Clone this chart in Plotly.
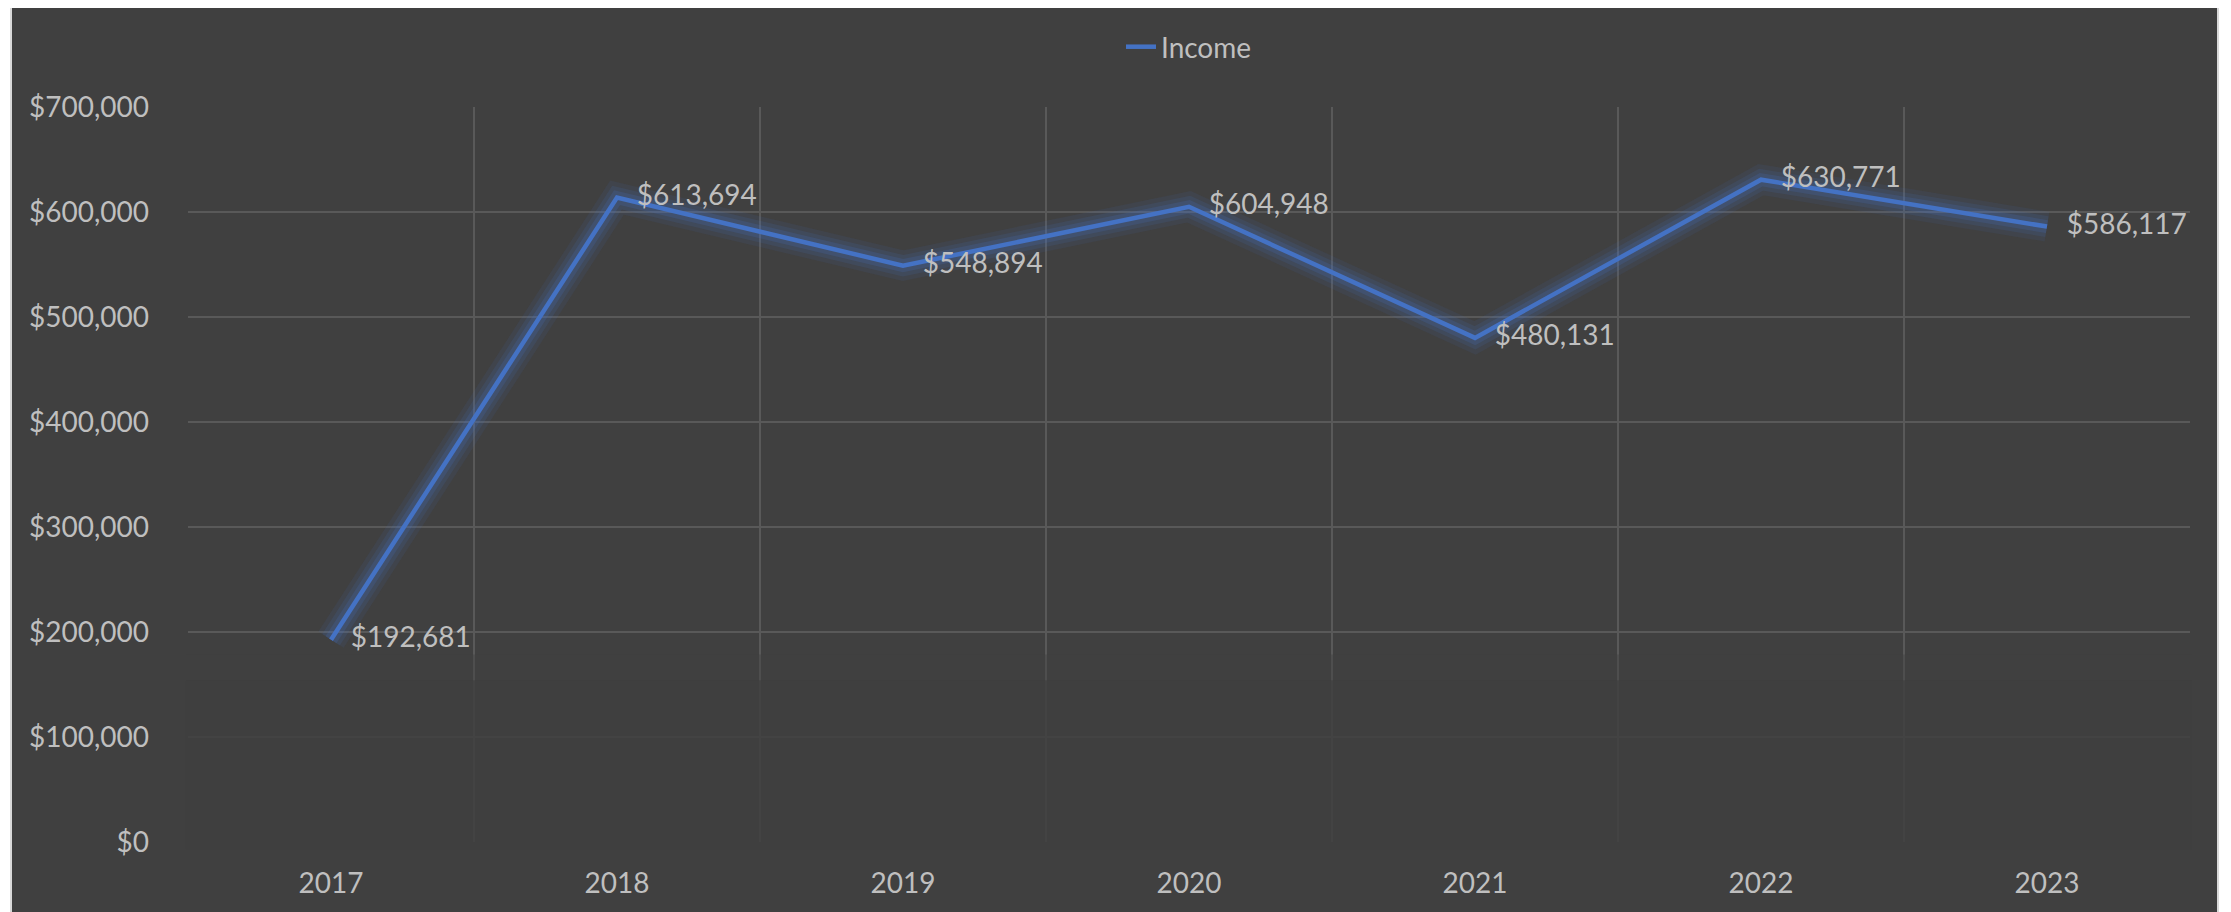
import plotly.graph_objects as go

years = ["2017", "2018", "2019", "2020", "2021", "2022", "2023"]
income = [192681, 613694, 548894, 604948, 480131, 630771, 586117]
y_ticks = [0, 100000, 200000, 300000, 400000, 500000, 600000, 700000]
series_name = "Income"

BG = "#404040"
TXT = "#BFBFBF"
GRID = "#595959"
BLUE = "#4472C4"
FONT = "Lato"
FS = 28

labels = ["${:,}".format(v) for v in income]

fig = go.Figure()
# soft glow under the line
for w, a in [(30, 0.09), (21, 0.13), (13, 0.19)]:
    fig.add_trace(go.Scatter(
        x=years, y=income, mode="lines",
        line=dict(color=f"rgba(68,114,196,{a})", width=w),
        showlegend=False, hoverinfo="skip"))
fig.add_trace(go.Scatter(
    x=years, y=income, name=series_name,
    mode="lines+markers+text",
    line=dict(color=BLUE, width=4.5),
    marker=dict(size=30, color="rgba(0,0,0,0)", line=dict(width=0)),
    text=labels, textposition="middle right",
    textfont=dict(family=FONT, size=FS, color=TXT),
))

# page body has an 8px margin, so the figure is placed at (8, 8)
OFF = 8
W, H = 2231 - OFF, 912 - OFF
L, R, T, B = 188 - OFF, 41, 107 - OFF, 70
pw, ph = W - L - R, H - T - B

def px(x):
    return (x - OFF - L) / pw

def py(y):
    return (H - B - (y - OFF)) / ph

shapes = [
    dict(type="rect", xref="paper", yref="paper", layer="below",
         x0=px(11), x1=px(2218), y0=py(914), y1=py(5),
         fillcolor=BG, line=dict(color="#D9D9D9", width=2)),
    # soft fade of the lower grid area
    dict(type="rect", xref="paper", yref="paper", layer="above",
         x0=-0.001, x1=1.001, y0=-0.01, y1=0.22,
         fillcolor=BG, opacity=0.85, line=dict(width=0)),
    dict(type="rect", xref="paper", yref="paper", layer="above",
         x0=-0.001, x1=1.001, y0=0.22, y1=0.255,
         fillcolor=BG, opacity=0.45, line=dict(width=0)),
]

fig.update_layout(
    width=W, height=H,
    margin=dict(l=L, r=R, t=T, b=B, pad=0),
    paper_bgcolor="white",
    plot_bgcolor=BG,
    font=dict(family=FONT, size=FS, color=TXT),
    showlegend=True,
    legend=dict(orientation="h", x=0.5, xanchor="center",
                y=1 + 60 / ph, yanchor="middle",
                font=dict(family=FONT, size=FS, color=TXT),
                bgcolor="rgba(0,0,0,0)"),
    shapes=shapes,
    xaxis=dict(type="category", range=[-0.5, 6.5], tickson="boundaries",
               showgrid=True, gridcolor=GRID, gridwidth=1.5,
               ticks="", showline=False, zeroline=False,
               ticklabelstandoff=22,
               tickfont=dict(family=FONT, size=FS, color=TXT)),
    yaxis=dict(range=[0, 700000], tickvals=y_ticks,
               ticktext=["${:,}".format(v) for v in y_ticks],
               showgrid=True, gridcolor=GRID, gridwidth=1.5,
               ticks="", showline=False, zeroline=False,
               ticklabelstandoff=38,
               tickfont=dict(family=FONT, size=FS, color=TXT)),
)

fig.write_html("out.html")
